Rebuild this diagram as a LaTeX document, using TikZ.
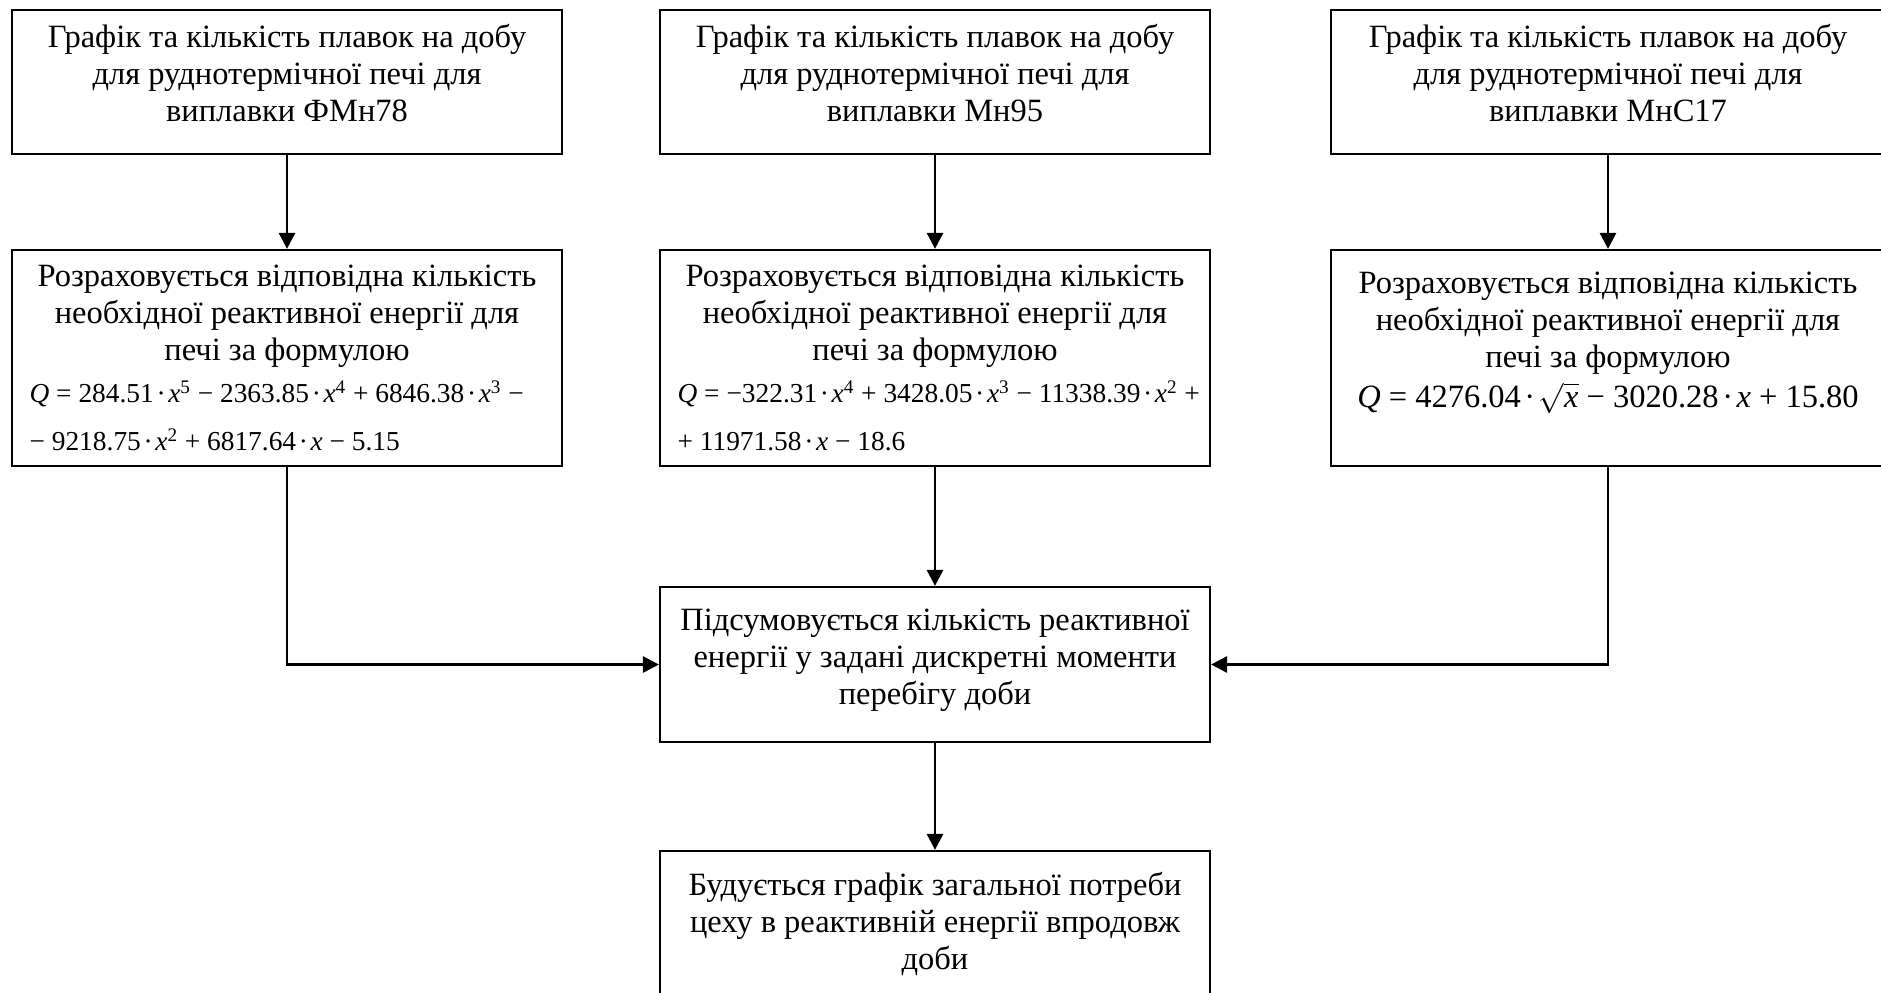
\documentclass[tikz,border=0pt]{standalone}
\usepackage{fontspec}
\setmainfont{Liberation Serif}
\usetikzlibrary{arrows.meta}
\newcommand{\dt}{\kern1.5pt·\kern1.5pt}
\newcommand{\fx}{\textit{x}}
\newcommand{\fline}[1]{\makebox[10.3cm][l]{#1}}
\newcommand{\fsmall}{\fontsize{15.6}{19}\selectfont}

\begin{document}
\begin{tikzpicture}[x=0.02cm,y=-0.02cm,
  blok/.style={draw,line width=1.3pt,align=center,inner sep=0pt,minimum width=11cm,font=\fontsize{18.5}{21}\selectfont},
  arr/.style={line width=1.6pt,-{Triangle[length=0.32cm,width=0.32cm]}}]
\useasboundingbox (0,0) rectangle (1881,992);
\node[blok,minimum height=2.88cm] (g1) at (287,82) {Графік та кількість плавок на добу\\для руднотермічної печі для\\виплавки ФМн78\\[-11pt]\mbox{}};
\node[blok,minimum height=2.88cm] (g2) at (935,82) {Графік та кількість плавок на добу\\для руднотермічної печі для\\виплавки Мн95\\[-11pt]\mbox{}};
\node[blok,minimum height=2.88cm,minimum width=11.08cm] (g3) at (1608,82) {Графік та кількість плавок на добу\\для руднотермічної печі для\\виплавки МнС17\\[-11pt]\mbox{}};
\node[blok,minimum height=4.32cm] (r1) at (287,358) {Розраховується відповідна кількість\\необхідної реактивної енергії для\\печі за формулою\\[3pt]
  \fline{\fsmall\textit{Q} = 284.51\dt\fx\textsuperscript{5} − 2363.85\dt\fx\textsuperscript{4} + 6846.38\dt\fx\textsuperscript{3} −}\\[6pt]
  \fline{\fsmall − 9218.75\dt\fx\textsuperscript{2} + 6817.64\dt\fx{} − 5.15}};
\node[blok,minimum height=4.32cm] (r2) at (935,358) {Розраховується відповідна кількість\\необхідної реактивної енергії для\\печі за формулою\\[3pt]
  \fline{\fsmall\textit{Q} = −322.31\dt\fx\textsuperscript{4} + 3428.05\dt\fx\textsuperscript{3} − 11338.39\dt\fx\textsuperscript{2} +}\\[6pt]
  \fline{\fsmall + 11971.58\dt\fx{} − 18.6}};
\node[blok,minimum height=4.32cm,minimum width=11.08cm] (r3) at (1608,358) {Розраховується відповідна кількість\\необхідної реактивної енергії для\\печі за формулою\\[2pt]
  \textit{Q} = 4276.04\kern2pt·\kern2pt$\sqrt{\mbox{\fx}}$ − 3020.28\kern2pt·\kern2pt\fx{} + 15.80\\ \mbox{}};
\node[blok,minimum height=3.1cm] (sum) at (935,664.5) {Підсумовується кількість реактивної\\енергії у задані дискретні моменти\\перебігу доби\\[-12pt]\mbox{}};
\node[blok,minimum height=3.1cm] (res) at (935,928.5) {Будується графік загальної потреби\\цеху в реактивній енергії впродовж\\доби\\[-12pt]\mbox{}};
\draw[arr] (g1) -- (r1);
\draw[arr] (g2) -- (r2);
\draw[arr] (g3) -- (r3);
\draw[arr] (r2) -- (sum);
\draw[arr] (r1.south) |- (sum.west);
\draw[arr] (r3.south) |- (sum.east);
\draw[arr] (sum) -- (res);
\end{tikzpicture}
\end{document}
